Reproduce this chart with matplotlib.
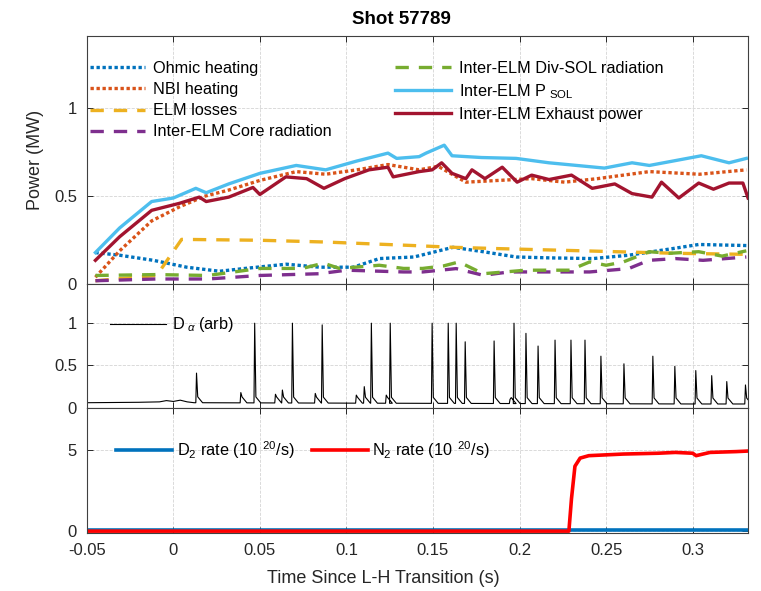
import numpy as np
import matplotlib
matplotlib.use("Agg")
import matplotlib.pyplot as plt
from matplotlib.ticker import FormatStrFormatter

plt.rcParams['font.family'] = ['Liberation Sans', 'DejaVu Sans']
plt.rcParams['mathtext.fontset'] = 'custom'
plt.rcParams['mathtext.rm'] = 'Liberation Sans'
plt.rcParams['mathtext.it'] = 'Liberation Sans:italic'
plt.rcParams['mathtext.bf'] = 'Liberation Sans:bold'

# ---- power balance (MW) ----
ohmic_t = [-0.045, -0.031, -0.0115, 0.0077, 0.0267, 0.0405, 0.0653, 0.0844, 0.104, 0.119,
           0.139, 0.1616, 0.179, 0.198, 0.217, 0.2424, 0.263, 0.290, 0.3035, 0.331]
ohmic_v = [0.18, 0.165, 0.136, 0.097, 0.074, 0.089, 0.114, 0.097, 0.097, 0.146,
           0.155, 0.21, 0.185, 0.155, 0.15, 0.146, 0.165, 0.205, 0.226, 0.22]

nbi_t = [-0.045, -0.031, -0.0125, 0.0036, 0.018, 0.032, 0.05, 0.071, 0.088, 0.106,
         0.124, 0.142, 0.153, 0.169, 0.188, 0.207, 0.226, 0.245, 0.275, 0.304, 0.331]
nbi_v = [0.04, 0.19, 0.36, 0.44, 0.50, 0.535, 0.59, 0.64, 0.625, 0.65,
         0.68, 0.65, 0.67, 0.58, 0.59, 0.60, 0.58, 0.60, 0.64, 0.625, 0.65]

elm_t = [-0.045, -0.0096, 0.0048, 0.05, 0.0877, 0.1385, 0.1616, 0.186, 0.2366, 0.290, 0.331]
elm_v = [0.02, 0.05, 0.255, 0.25, 0.24, 0.22, 0.21, 0.203, 0.19, 0.176, 0.17]

core_t = [-0.045, -0.01, 0.02, 0.05, 0.0844, 0.10, 0.133, 0.1441, 0.1634, 0.179, 0.194,
          0.217, 0.2405, 0.263, 0.2747, 0.290, 0.306, 0.331]
core_v = [0.02, 0.03, 0.03, 0.05, 0.06, 0.08, 0.07, 0.07, 0.089, 0.051, 0.07,
          0.07, 0.07, 0.089, 0.136, 0.146, 0.136, 0.155]

divsol_t = [-0.045, -0.01, 0.02, 0.05, 0.0746, 0.0867, 0.096, 0.119, 0.133, 0.144, 0.156,
            0.165, 0.179, 0.2037, 0.229, 0.2405, 0.25, 0.26, 0.275, 0.2865, 0.3035, 0.317, 0.331]
divsol_v = [0.05, 0.055, 0.05, 0.09, 0.09, 0.12, 0.09, 0.108, 0.09, 0.09, 0.104,
            0.127, 0.06, 0.08, 0.08, 0.127, 0.108, 0.127, 0.185, 0.176, 0.185, 0.16, 0.19]

psol_t = [-0.045, -0.031, -0.0125, 0.0, 0.013, 0.019, 0.032, 0.05, 0.071, 0.088, 0.106,
          0.124, 0.129, 0.142, 0.146, 0.1565, 0.161, 0.178, 0.198, 0.217, 0.249, 0.265,
          0.275, 0.305, 0.321, 0.331]
psol_v = [0.18, 0.32, 0.47, 0.49, 0.545, 0.52, 0.57, 0.63, 0.675, 0.65, 0.70,
          0.745, 0.715, 0.725, 0.745, 0.79, 0.73, 0.72, 0.715, 0.69, 0.66, 0.69,
          0.675, 0.73, 0.69, 0.715]

exhaust_t = [-0.045, -0.031, -0.0125, 0.0036, 0.015, 0.019, 0.032, 0.046, 0.05, 0.065,
             0.077, 0.087, 0.099, 0.113, 0.124, 0.127, 0.142, 0.1495, 0.155, 0.161,
             0.169, 0.1725, 0.18, 0.19, 0.1986, 0.207, 0.217, 0.23, 0.242, 0.255,
             0.265, 0.2765, 0.282, 0.292, 0.3035, 0.312, 0.321, 0.329, 0.332]
exhaust_v = [0.136, 0.27, 0.42, 0.46, 0.495, 0.47, 0.495, 0.55, 0.51, 0.61,
             0.60, 0.545, 0.60, 0.65, 0.665, 0.61, 0.64, 0.65, 0.69, 0.63,
             0.60, 0.65, 0.60, 0.665, 0.58, 0.62, 0.595, 0.62, 0.545, 0.57,
             0.515, 0.495, 0.58, 0.49, 0.575, 0.54, 0.575, 0.575, 0.49]

# ---- D-alpha (arb) ----
da_base_t = [-0.05, -0.02, -0.008, -0.004, 0.0, 0.004, 0.008, 0.012, 0.1, 0.2, 0.3, 0.335]
da_base_v = [0.06, 0.065, 0.07, 0.085, 0.075, 0.09, 0.07, 0.06, 0.055, 0.05, 0.045, 0.045]
elm_spike_t = [0.0134, 0.039, 0.047, 0.059, 0.063, 0.0688, 0.082, 0.086, 0.1057, 0.1103,
               0.1144, 0.123, 0.1253, 0.1495, 0.1588, 0.1634, 0.1686, 0.1853, 0.1945,
               0.1968, 0.2037, 0.2107, 0.2205, 0.2297, 0.2378, 0.247, 0.2603, 0.277,
               0.2897, 0.3018, 0.311, 0.3197, 0.3305]
elm_spike_h = [0.41, 0.18, 1.0, 0.16, 0.21, 1.0, 0.17, 0.98, 0.15, 0.25,
               1.0, 0.15, 1.0, 1.0, 1.0, 1.0, 0.78, 0.79, 0.1,
               1.0, 0.88, 0.73, 0.80, 0.80, 0.80, 0.61, 0.52, 0.61,
               0.49, 0.44, 0.38, 0.31, 0.27]

# ---- gas fuelling rates (1e20 /s) ----
d2_t = [-0.05, 0.335]
d2_v = [0.05, 0.05]
n2_t = [-0.05, 0.2285, 0.230, 0.232, 0.235, 0.24, 0.25, 0.26, 0.28, 0.29, 0.30,
        0.302, 0.31, 0.325, 0.335]
n2_v = [0.0, 0.0, 2.0, 4.0, 4.5, 4.65, 4.7, 4.75, 4.8, 4.85, 4.8,
        4.65, 4.85, 4.9, 4.95]

c_ohm = '#0072BD'
c_nbi = '#D95319'
c_elm = '#EDB120'
c_core = '#7E2F8E'
c_div = '#77AC30'
c_psol = '#4DBEEE'
c_exh = '#A2142F'
dot = (0, (1, 0.8))
dash = (0, (4, 3))
txt = '#262626'

fig = plt.figure(figsize=(7.61, 5.91), dpi=100)
ax1 = fig.add_axes([0.114, 0.519, 0.869, 0.420])
ax2 = fig.add_axes([0.114, 0.310, 0.869, 0.209])
ax3 = fig.add_axes([0.114, 0.098, 0.869, 0.212])

ax1.plot(ohmic_t, ohmic_v, color=c_ohm, ls=dot, lw=2.4, label='Ohmic heating')
ax1.plot(nbi_t, nbi_v, color=c_nbi, ls=dot, lw=2.4, label='NBI heating')
ax1.plot(elm_t, elm_v, color=c_elm, ls=dash, lw=2.4, label='ELM losses')
ax1.plot(core_t, core_v, color=c_core, ls=dash, lw=2.4, label='Inter-ELM Core radiation')
ax1.plot(divsol_t, divsol_v, color=c_div, ls=dash, lw=2.4, label='Inter-ELM Div-SOL radiation')
ax1.plot(psol_t, psol_v, color=c_psol, lw=2.4, label=r'Inter-ELM P$_{\ \mathrm{SOL}}$')
ax1.plot(exhaust_t, exhaust_v, color=c_exh, lw=2.4, label='Inter-ELM Exhaust power')

# D-alpha trace: baseline with a sharp rise and fast decay at each ELM
base_at = np.interp(elm_spike_t, da_base_t, da_base_v)
tr_t, tr_v = [], []
bi = 0
for t, h, b in zip(elm_spike_t, elm_spike_h, base_at):
    while bi < len(da_base_t) and da_base_t[bi] < t - 0.0004:
        tr_t.append(da_base_t[bi])
        tr_v.append(da_base_v[bi])
        bi += 1
    tr_t += [t - 0.0004, t, t + 0.0007, t + 0.0035]
    tr_v += [b, h, b + 0.07, b]
    while bi < len(da_base_t) and da_base_t[bi] <= t + 0.0035:
        bi += 1
tr_t += da_base_t[bi:]
tr_v += da_base_v[bi:]
ax2.plot(tr_t, tr_v, color='black', lw=0.8, label=r'D$_{\ \alpha}$ (arb)')

ax3.plot(d2_t, d2_v, color='#0072BD', lw=2.6, label=r'D$_2$ rate (10$^{\ \ 20}$/s)')
ax3.plot(n2_t, n2_v, color='#FF0000', lw=2.6, label=r'N$_2$ rate (10$^{\ \ 20}$/s)')

ax1.set_ylim(0, 1.41)
ax2.set_ylim(0, 1.46)
ax3.set_ylim(-0.12, 7.6)
ax1.set_yticks([0, 0.5, 1])
ax2.set_yticks([0, 0.5, 1])
ax3.set_yticks([0, 5])

for ax in (ax1, ax2, ax3):
    ax.set_xlim(-0.05, 0.332)
    ax.set_xticks(np.arange(-0.05, 0.31, 0.05))
    ax.xaxis.set_major_formatter(FormatStrFormatter('%g'))
    ax.yaxis.set_major_formatter(FormatStrFormatter('%g'))
    ax.grid(True, ls='--', color='#d4d4d4', lw=0.6)
    ax.set_axisbelow(True)
    ax.tick_params(direction='in', top=True, right=True, length=4, pad=7,
                   labelsize=12, colors=txt, width=0.7)
    for s in ax.spines.values():
        s.set_color('#404040')
        s.set_linewidth(0.8)
ax1.tick_params(labelbottom=False)
ax2.tick_params(labelbottom=False)

fig.text(401 / 761, 1 - 20 / 591, 'Shot 57789', fontsize=13.5, fontweight='bold',
         ha='center', va='center', color='black')
ax1.set_ylabel('Power (MW)', fontsize=13, color=txt)
ax1.yaxis.set_label_coords(-0.064, 0.5)
ax3.set_xlabel('Time Since L-H Transition (s)', fontsize=13, color=txt)
ax3.xaxis.set_label_coords(0.449, -0.296)

leg_kw = dict(frameon=False, fontsize=11.7, borderaxespad=0, handlelength=3.4)
ax1.legend(ncol=2, loc='upper left', bbox_to_anchor=(-0.005, 0.925),
           handletextpad=0.5, columnspacing=3.9, labelspacing=0.37, **leg_kw)
ax2.legend(loc='upper left', bbox_to_anchor=(0.026, 0.80), handletextpad=0.4, **leg_kw)
ax3.legend(ncol=2, loc='upper left', bbox_to_anchor=(0.035, 0.80),
           handletextpad=0.3, columnspacing=1.1, **leg_kw)

fig.savefig('out.png', dpi=100)
